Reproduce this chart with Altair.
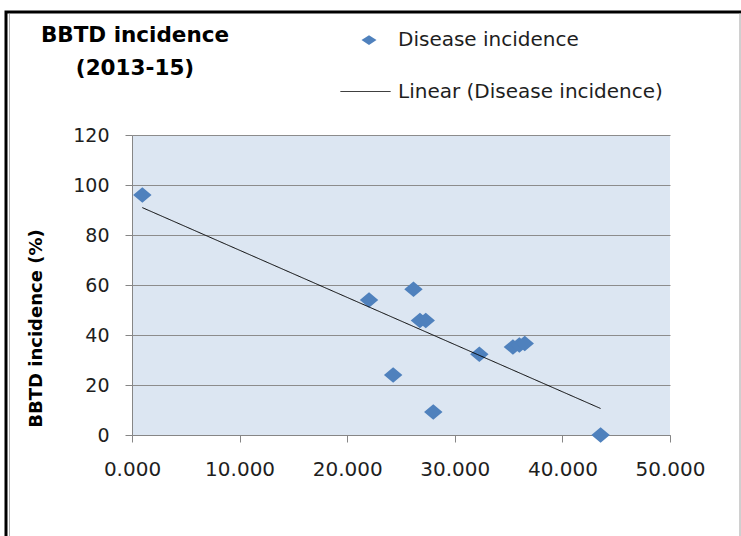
import altair as alt
import pandas as pd

# ---- data ----
x_vals = [0.96, 22.03, 24.27, 26.16, 26.76, 27.30, 28.00, 32.28, 35.40, 36.00, 36.50, 43.55]
y_vals = [96.0, 54.0, 24.0, 58.3, 45.8, 45.8, 9.2, 32.3, 35.2, 36.0, 36.6, 0.0]
x_ticks = [0, 10, 20, 30, 40, 50]
y_ticks = [0, 20, 40, 60, 80, 100, 120]
title_lines = ["BBTD incidence", "(2013-15)"]
y_title = "BBTD incidence (%)"
series_points = "Disease incidence"
series_trend = "Linear (Disease incidence)"

FONT = "DejaVu Sans"
GRID = "#8c8c8c"
AXIS = "#868686"
BLUE = "#4F81BD"
TXT = "#1e1e1e"
DIAMOND = "M-1,0L0,-0.83L1,0L0,0.83Z"
LEG_DIAMOND = "M-1,0L0,-0.65L1,0L0,0.65Z"

df = pd.DataFrame({"x": x_vals, "y": y_vals, "series": [series_points] * len(x_vals)})

x_enc = alt.X(
    "x:Q",
    scale=alt.Scale(domain=[0, 50], nice=False, zero=False),
    axis=alt.Axis(values=x_ticks, format=".3f", title=None, grid=False, labelFlush=False,
                  labelFont=FONT, labelFontSize=20, labelColor=TXT, labelPadding=17,
                  tickSize=7, tickColor=AXIS, domainColor=AXIS),
)
y_enc = alt.Y(
    "y:Q",
    scale=alt.Scale(domain=[0, 120], nice=False),
    axis=alt.Axis(values=y_ticks, title=y_title, grid=True, gridColor=GRID,
                  labelFont=FONT, labelFontSize=19, labelColor=TXT, labelPadding=16,
                  tickSize=7, tickColor=AXIS, domainColor=AXIS,
                  titleFont=FONT, titleFontSize=18, titleFontWeight="bold", titleColor="black",
                  titleAngle=270, titleX=-96, titleY=193, titleAlign="center",
                  titleBaseline="middle"),
)

base = alt.Chart(df)

points = base.mark_point(shape=DIAMOND, filled=True, size=340, opacity=1).encode(
    x=x_enc,
    y=y_enc,
    color=alt.Color(
        "series:N",
        scale=alt.Scale(domain=[series_points], range=[BLUE]),
        legend=alt.Legend(orient="none", legendX=227, legendY=-105, title=None,
                          padding=0, symbolType=LEG_DIAMOND, symbolSize=225,
                          symbolStrokeWidth=0, labelOffset=19, labelFont=FONT,
                          labelFontSize=20, labelColor=TXT, labelLimit=400),
    ),
)

trend = base.transform_regression("x", "y", method="linear").transform_calculate(
    trend_series=f"'{series_trend}'"
).mark_line(color="black", strokeWidth=1).encode(
    x=x_enc,
    y=y_enc,
    strokeDash=alt.StrokeDash(
        "trend_series:N",
        scale=alt.Scale(domain=[series_trend], range=[[1, 0]]),
        legend=alt.Legend(orient="none", legendX=208, legendY=-69, title=None,
                          padding=0, symbolType="stroke", symbolSize=2500,
                          symbolStrokeColor="black", symbolStrokeWidth=1,
                          labelOffset=7, labelFont=FONT, labelFontSize=20,
                          labelColor=TXT, labelLimit=400),
    ),
)

one = pd.DataFrame({"k": [0]})
title = alt.Chart(one).mark_text(
    text=title_lines, font=FONT, fontSize=21.5, fontWeight="bold", color="black",
    align="center", baseline="middle", lineHeight=33,
).encode(x=alt.value(3), y=alt.value(-99))

frame = alt.Chart(one).mark_rect(fillOpacity=0, stroke="black", strokeWidth=3).encode(
    x=alt.value(-126), x2=alt.value(612), y=alt.value(-123), y2=alt.value(420)
)
edge_r = alt.Chart(one).mark_rule(color="#a0a0a0", strokeWidth=1).encode(
    x=alt.value(608), y=alt.value(-122), y2=alt.value(410)
)
edge_l = alt.Chart(one).mark_rule(color="#b0b0b0", strokeWidth=1).encode(
    x=alt.value(-122.5), y=alt.value(-121), y2=alt.value(410)
)

chart = alt.layer(frame, edge_r, edge_l, points, trend, title).resolve_legend(
    color="independent", strokeDash="independent"
).properties(
    width=538, height=300,
    padding={"left": 132, "top": 135, "right": 71, "bottom": 101},
    autosize=alt.AutoSizeParams(type="none"),
    background="white",
).configure_view(stroke=None, fill="#DCE6F2")

chart.save("out.html", embed_options={"renderer": "svg", "actions": False})
